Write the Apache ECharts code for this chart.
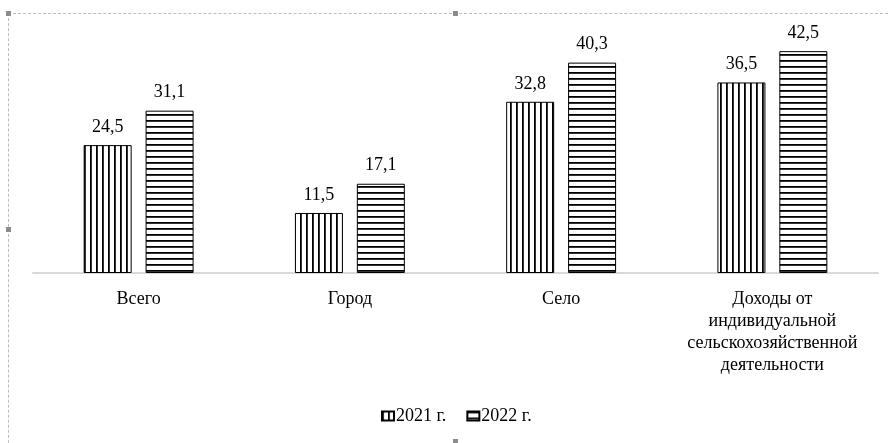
<!DOCTYPE html>
<html><head><meta charset="utf-8">
<script src="https://cdn.jsdelivr.net/npm/echarts@6/dist/echarts.min.js"></script>
<style>
html,body{margin:0;padding:0;background:#fff;}
#wrap{position:relative;width:890px;height:443px;overflow:hidden;}
#chart{position:absolute;left:0;top:0;width:890px;height:443px;}
.frame{position:absolute;left:8px;top:13px;width:900px;height:460px;border:1px dashed #bdbdbd;box-sizing:border-box;pointer-events:none;}
.h{position:absolute;width:5px;height:5px;background:#8c8c8c;}
</style></head>
<body><div id="wrap"><div id="chart"></div><div class="frame"></div>
<div class="h" style="left:6px;top:11px"></div><div class="h" style="left:453px;top:11px"></div><div class="h" style="left:6px;top:227px"></div><div class="h" style="left:453px;top:439px"></div></div>
<script>
var categories = ['Всего', 'Город', 'Село', 'Доходы от\nиндивидуальной\nсельскохозяйственной\nдеятельности'];
var seriesNames = ['2021 г.', '2022 г.'];
var values2021 = [24.5, 11.5, 32.8, 36.5];
var values2022 = [31.1, 17.1, 40.3, 42.5];

function makePattern(vertical) {
  var c = document.createElement('canvas');
  c.width = 6; c.height = 6;
  var ctx = c.getContext('2d');
  ctx.fillStyle = '#fff'; ctx.fillRect(0, 0, 6, 6);
  ctx.fillStyle = '#000';
  if (vertical) ctx.fillRect(0, 0, 1.8, 6); else ctx.fillRect(0, 0, 6, 1.8);
  return {image: c, repeat: 'repeat'};
}
var chart = echarts.init(document.getElementById('chart'));
var font = '"Liberation Serif","Times New Roman",serif';
var lbl = {show: true, position: 'top', distance: 9, color: '#000', fontFamily: font, fontSize: 18,
  formatter: function (p) { return String(p.value.toFixed(1)).replace('.', ','); }};
chart.setOption({
  animation: false,
  grid: {left: 33, right: 12, top: 12, bottom: 170},
  legend: {bottom: 13, left: 376, itemWidth: 12, itemHeight: 9, itemGap: 20, icon: 'rect',
    textStyle: {fontFamily: font, fontSize: 18, color: '#000', padding: [0, 0, 0, -3]}, data: seriesNames},
  xAxis: {type: 'category', data: categories,
    axisLine: {lineStyle: {color: '#d9d9d9', width: 2}}, axisTick: {show: false},
    axisLabel: {interval: 0, color: '#000', fontFamily: font, fontSize: 18, lineHeight: 22, margin: 15}},
  yAxis: {type: 'value', min: 0, max: 50, show: false, splitLine: {show: false}},
  series: [
    {name: seriesNames[0], type: 'bar', data: values2021, barWidth: 48, barGap: '29%',
      itemStyle: {color: makePattern(true), borderColor: '#000', borderWidth: 1}, label: lbl},
    {name: seriesNames[1], type: 'bar', data: values2022, barWidth: 48,
      itemStyle: {color: makePattern(false), borderColor: '#000', borderWidth: 1}, label: lbl}
  ]
});
</script></body></html>
